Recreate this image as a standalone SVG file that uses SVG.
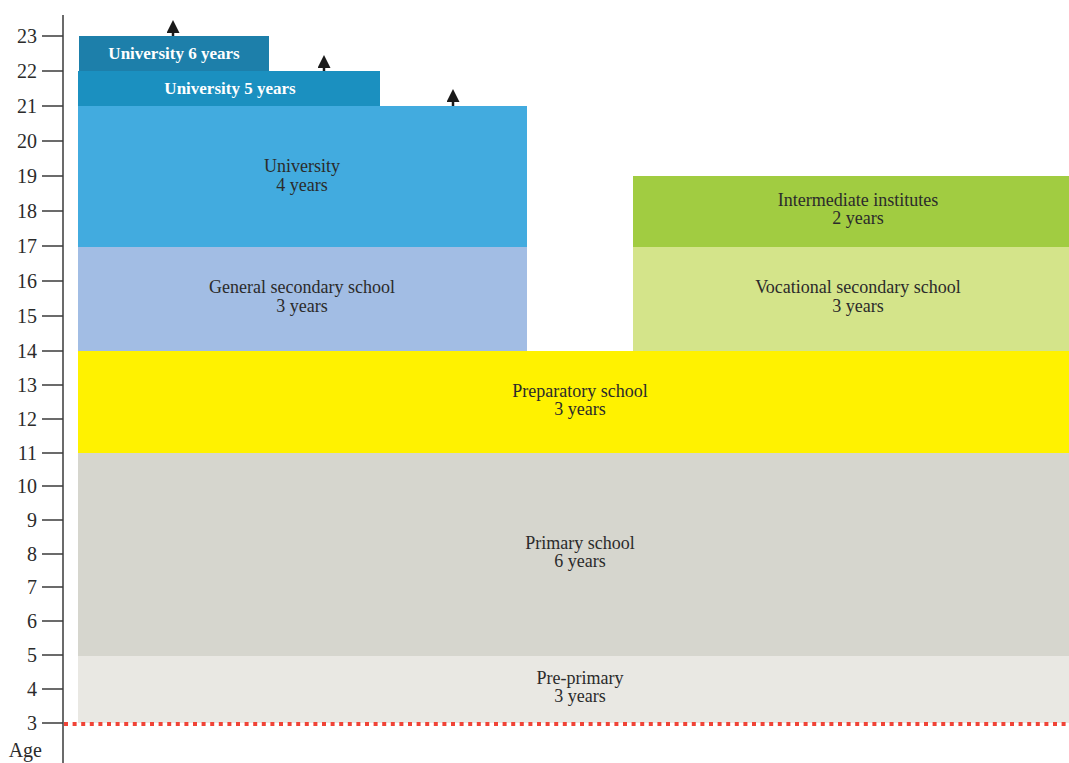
<svg xmlns="http://www.w3.org/2000/svg" width="1069" height="763" viewBox="0 0 1069 763">
<defs>
<style>
.lbl{font-family:"Liberation Serif","Times New Roman",serif;font-size:18px;fill:#2b2b2b;text-anchor:middle}
.wlbl{font-family:"Liberation Serif","Times New Roman",serif;font-size:17px;font-weight:bold;fill:#ffffff;text-anchor:middle}
.tick{font-family:"Liberation Serif","Times New Roman",serif;font-size:20px;fill:#2b2b2b;text-anchor:end}
.tk{stroke:#3a3a3a;stroke-width:1.5}
.arr{stroke:#1a1a1a;stroke-width:2.5;fill:none}
</style>
<marker id="ah" viewBox="0 0 10 10" refX="0" refY="5" markerWidth="13" markerHeight="13" markerUnits="userSpaceOnUse" orient="auto">
<path d="M0,0 L10,5 L0,10 z" fill="#1a1a1a"/>
</marker>
</defs>
<rect width="1069" height="763" fill="#ffffff"/>

<g id="axis">
<line x1="63" y1="15" x2="63" y2="763" stroke="#3a3a3a" stroke-width="1.5"/>
<line class="tk" x1="42" y1="36" x2="63" y2="36"/><text class="tick" x="37" y="43">23</text>
<line class="tk" x1="42" y1="71" x2="63" y2="71"/><text class="tick" x="37" y="78">22</text>
<line class="tk" x1="42" y1="106" x2="63" y2="106"/><text class="tick" x="37" y="113">21</text>
<line class="tk" x1="42" y1="141" x2="63" y2="141"/><text class="tick" x="37" y="148">20</text>
<line class="tk" x1="42" y1="176" x2="63" y2="176"/><text class="tick" x="37" y="183">19</text>
<line class="tk" x1="42" y1="211" x2="63" y2="211"/><text class="tick" x="37" y="218">18</text>
<line class="tk" x1="42" y1="246" x2="63" y2="246"/><text class="tick" x="37" y="253">17</text>
<line class="tk" x1="42" y1="281" x2="63" y2="281"/><text class="tick" x="37" y="288">16</text>
<line class="tk" x1="42" y1="316" x2="63" y2="316"/><text class="tick" x="37" y="323">15</text>
<line class="tk" x1="42" y1="351" x2="63" y2="351"/><text class="tick" x="37" y="358">14</text>
<line class="tk" x1="42" y1="385" x2="63" y2="385"/><text class="tick" x="37" y="392">13</text>
<line class="tk" x1="42" y1="419" x2="63" y2="419"/><text class="tick" x="37" y="426">12</text>
<line class="tk" x1="42" y1="453" x2="63" y2="453"/><text class="tick" x="37" y="460">11</text>
<line class="tk" x1="42" y1="486" x2="63" y2="486"/><text class="tick" x="37" y="493">10</text>
<line class="tk" x1="42" y1="520" x2="63" y2="520"/><text class="tick" x="37" y="527">9</text>
<line class="tk" x1="42" y1="554" x2="63" y2="554"/><text class="tick" x="37" y="561">8</text>
<line class="tk" x1="42" y1="587" x2="63" y2="587"/><text class="tick" x="37" y="594">7</text>
<line class="tk" x1="42" y1="621" x2="63" y2="621"/><text class="tick" x="37" y="628">6</text>
<line class="tk" x1="42" y1="655" x2="63" y2="655"/><text class="tick" x="37" y="662">5</text>
<line class="tk" x1="42" y1="689" x2="63" y2="689"/><text class="tick" x="37" y="696">4</text>
<line class="tk" x1="42" y1="723" x2="63" y2="723"/><text class="tick" x="37" y="730">3</text>
<text class="tick" x="42" y="757">Age</text>
</g>

<g id="pre-primary">
<rect x="78" y="656" width="991" height="67" fill="#e9e8e3"/>
<text class="lbl" x="580" y="684">Pre-primary</text>
<text class="lbl" x="580" y="702">3 years</text>
</g>
<g id="primary">
<rect x="78" y="453" width="991" height="203" fill="#d6d6ce"/>
<text class="lbl" x="580" y="549">Primary school</text>
<text class="lbl" x="580" y="567">6 years</text>
</g>
<g id="preparatory">
<rect x="78" y="351" width="991" height="102" fill="#fff200"/>
<text class="lbl" x="580" y="397">Preparatory school</text>
<text class="lbl" x="580" y="415">3 years</text>
</g>
<g id="general-secondary">
<rect x="78" y="247" width="449" height="104" fill="#a2bde4"/>
<text class="lbl" x="302" y="293">General secondary school</text>
<text class="lbl" x="302" y="312">3 years</text>
</g>
<g id="vocational-secondary">
<rect x="633" y="247" width="436" height="104" fill="#d4e48a"/>
<text class="lbl" x="858" y="293">Vocational secondary school</text>
<text class="lbl" x="858" y="312">3 years</text>
</g>
<g id="intermediate">
<rect x="633" y="176" width="436" height="71" fill="#a1cc41"/>
<text class="lbl" x="858" y="206">Intermediate institutes</text>
<text class="lbl" x="858" y="224">2 years</text>
</g>
<g id="university-4">
<rect x="78" y="106" width="449" height="141" fill="#42abdf"/>
<text class="lbl" x="302" y="172">University</text>
<text class="lbl" x="302" y="191">4 years</text>
</g>
<g id="university-5">
<rect x="78" y="71" width="302" height="35" fill="#1b90c0"/>
<text class="wlbl" x="230" y="94">University 5 years</text>
</g>
<g id="university-6">
<rect x="79" y="36" width="190" height="35" fill="#1d7faa"/>
<text class="wlbl" x="174" y="59">University 6 years</text>
</g>

<g id="connectors">
<line class="arr" x1="173" y1="36" x2="173" y2="33" marker-end="url(#ah)"/>
<line class="arr" x1="324" y1="71" x2="324" y2="68" marker-end="url(#ah)"/>
<line class="arr" x1="453" y1="106" x2="453" y2="102" marker-end="url(#ah)"/>
</g>

<g id="baseline-age-3">
<line x1="64" y1="724" x2="1069" y2="724" stroke="#f04437" stroke-width="4" stroke-dasharray="4 4.6"/>
</g>
</svg>
